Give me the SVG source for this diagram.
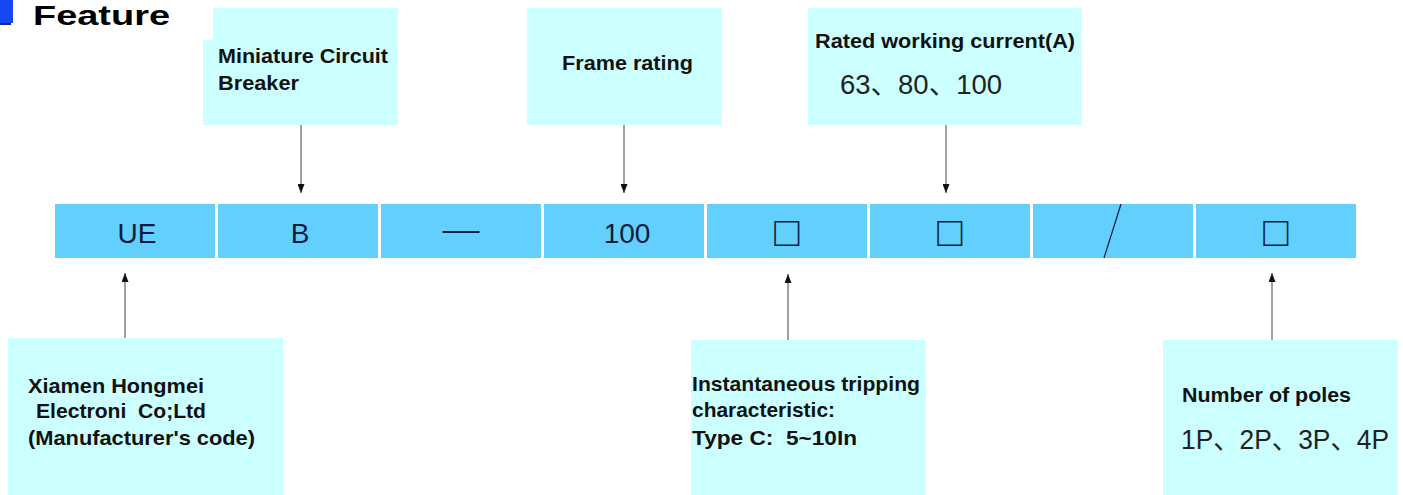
<svg xmlns="http://www.w3.org/2000/svg" width="1403" height="495" viewBox="0 0 1403 495">
<style>
.box{fill:#CCFFFF}
.seg{fill:#63CFFC}
.lbl{font-family:"Liberation Sans",Arial,sans-serif;font-weight:bold;font-size:20.5px;fill:#111}
.val{font-family:"Liberation Sans","Noto Sans CJK SC",sans-serif;font-size:27.5px;fill:#222}
.code{font-family:"Liberation Sans","DejaVu Sans",sans-serif;font-size:28px;fill:#0d1b3e;text-anchor:middle}
.sq{font-size:42px}
.dash{font-size:30px}
.conn line{stroke:#444;stroke-width:1}
</style>
<defs>
<marker id="ah" viewBox="0 0 9 7" refX="9" refY="3.5" markerWidth="9" markerHeight="7" markerUnits="userSpaceOnUse" orient="auto">
<path d="M0,0 L9,3.5 L0,7 z" fill="#111"/>
</marker>
</defs>
<rect width="1403" height="495" fill="#fff"/>
<g id="title">
<rect x="0" y="0" width="13" height="23" fill="#1546F0"/>
<rect x="0" y="23" width="11" height="2" fill="#0a2aa0"/>
<text x="33" y="25" font-family="Liberation Sans,Arial,sans-serif" font-weight="bold" font-size="27" textLength="137" lengthAdjust="spacingAndGlyphs" fill="#000">Feature</text>
</g>
<g id="bar">
<rect class="seg" x="55" y="204" width="160" height="54"/>
<rect class="seg" x="218" y="204" width="160" height="54"/>
<rect class="seg" x="381" y="204" width="160" height="54"/>
<rect class="seg" x="544" y="204" width="160" height="54"/>
<rect class="seg" x="707" y="204" width="160" height="54"/>
<rect class="seg" x="870" y="204" width="160" height="54"/>
<rect class="seg" x="1033" y="204" width="160" height="54"/>
<rect class="seg" x="1196" y="204" width="160" height="54"/>
<text class="code" x="137" y="243">UE</text>
<text class="code" x="300" y="243">B</text>
<text class="code dash" x="461" y="240" textLength="37" lengthAdjust="spacingAndGlyphs">—</text>
<text class="code" x="627" y="243">100</text>
<text class="code sq" x="787" y="246">□</text>
<text class="code sq" x="950" y="246">□</text>
<line x1="1121" y1="204" x2="1104" y2="258" stroke="#0d1b3e" stroke-width="1.2"/>
<text class="code sq" x="1276" y="246">□</text>
</g>
<g id="n-mcb">
<path class="box" d="M213,8 H398 V125 H203 V40 H213 Z"/>
<text class="lbl" x="218" y="63" textLength="170" lengthAdjust="spacingAndGlyphs">Miniature Circuit</text>
<text class="lbl" x="218" y="90" textLength="81" lengthAdjust="spacingAndGlyphs">Breaker</text>
</g>
<g id="n-frame">
<rect class="box" x="527" y="8" width="195" height="117"/>
<text class="lbl" x="562" y="70" textLength="131" lengthAdjust="spacingAndGlyphs">Frame rating</text>
</g>
<g id="n-current">
<rect class="box" x="808" y="8" width="274" height="117"/>
<text class="lbl" x="815" y="48" textLength="260" lengthAdjust="spacingAndGlyphs">Rated working current(A)</text>
<text class="val" x="840" y="94" textLength="162" lengthAdjust="spacingAndGlyphs">63、80、100</text>
</g>
<g id="n-maker">
<rect class="box" x="8" y="338" width="275" height="157"/>
<text class="lbl" x="28" y="393" textLength="176" lengthAdjust="spacingAndGlyphs">Xiamen Hongmei</text>
<text class="lbl" x="36" y="418" textLength="170" lengthAdjust="spacingAndGlyphs" style="white-space:pre">Electroni  Co;Ltd</text>
<text class="lbl" x="28" y="445" textLength="227" lengthAdjust="spacingAndGlyphs">(Manufacturer's code)</text>
</g>
<g id="n-trip">
<rect class="box" x="691" y="340" width="235" height="155"/>
<text class="lbl" x="692" y="391" textLength="228" lengthAdjust="spacingAndGlyphs">Instantaneous tripping</text>
<text class="lbl" x="692" y="417" textLength="143" lengthAdjust="spacingAndGlyphs">characteristic:</text>
<text class="lbl" x="692" y="445" textLength="165" lengthAdjust="spacingAndGlyphs" style="white-space:pre">Type C:  5~10In</text>
</g>
<g id="n-poles">
<rect class="box" x="1163" y="340" width="235" height="155"/>
<text class="lbl" x="1182" y="402" textLength="169" lengthAdjust="spacingAndGlyphs">Number of poles</text>
<text class="val" x="1181" y="449" textLength="208" lengthAdjust="spacingAndGlyphs">1P、2P、3P、4P</text>
</g>
<g id="connectors" class="conn">
<line x1="301" y1="125" x2="301" y2="193" marker-end="url(#ah)"/>
<line x1="624" y1="125" x2="624" y2="193" marker-end="url(#ah)"/>
<line x1="946" y1="125" x2="946" y2="193" marker-end="url(#ah)"/>
<line x1="125" y1="338" x2="125" y2="273" marker-end="url(#ah)"/>
<line x1="788" y1="340" x2="788" y2="274" marker-end="url(#ah)"/>
<line x1="1272" y1="340" x2="1272" y2="273" marker-end="url(#ah)"/>
</g>
</svg>
